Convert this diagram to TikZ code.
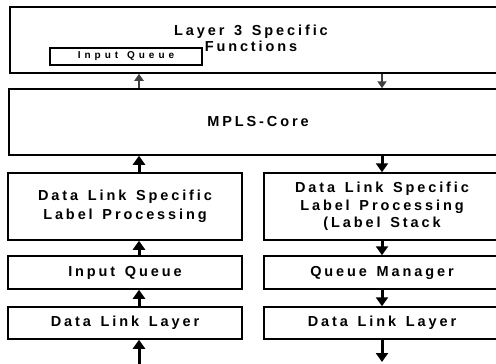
\documentclass[tikz,border=0pt]{standalone}
\usepackage{fontspec}
\setmainfont{Liberation Sans}
\newfontfamily\spacedsans[LetterSpace=20, WordSpace=1.4, BoldFont={Liberation Sans Bold}]{Liberation Sans}
\newfontfamily\smallspaced[LetterSpace=40, WordSpace=1.3, BoldFont={Liberation Sans Bold}]{Liberation Sans}
\usetikzlibrary{arrows.meta}

\begin{document}
\begin{tikzpicture}[x=1pt,y=-1pt,
  box/.style={draw, line width=1.5pt, inner sep=0pt, align=center,
    font=\spacedsans\bfseries\fontsize{14.5}{17.5}\selectfont},
  lbl/.style={inner sep=0pt, align=center,
    font=\spacedsans\bfseries\fontsize{14.5}{16}\selectfont},
  smallbox/.style={draw, line width=1.3pt, inner sep=0pt,
    font=\smallspaced\bfseries\fontsize{10}{10}\selectfont},
  bigarrow/.style={line width=3pt, -{Triangle[width=12pt,length=9pt]}},
  thinarrow/.style={line width=2.4pt, black!75, -{Triangle[width=9pt,length=7pt]}}]

\useasboundingbox (0,0) rectangle (496,364);

% arrow columns
\coordinate (colL) at (139,0);
\coordinate (colR) at (382,0);

% upper layers
\node[box, minimum width=497, minimum height=66] (l3) at (258.5,40) {};
\node[lbl] (l3text) at (251,38.5) {Layer 3 Specific\\Functions};
\node[smallbox, minimum width=152, minimum height=17] (iqs) at (126,56.5) {Input Queue};
\node[box, minimum width=498, minimum height=66] (mpls) at (258,122) {MPLS-Core};

% receive column
\node[box, minimum width=234, minimum height=67] (dlsl) at (125,206.5)
  {Data Link Specific\\[1.5pt]Label Processing};
\node[box, minimum width=234, minimum height=33] (iq) at (125,272.5) {Input Queue};
\node[box, minimum width=234, minimum height=32] (dllL) at (125,323) {Data Link Layer};

% send column
\node[box, minimum width=236, minimum height=67] (dlsr) at (382,206.5)
  {Data Link Specific\\Label Processing\\(Label Stack};
\node[box, minimum width=236, minimum height=33] (qm) at (382,272.5) {Queue Manager};
\node[box, minimum width=236, minimum height=32] (dllR) at (382,323) {Data Link Layer};

% open ends
\coordinate (inL) at (139,368);
\coordinate (outR) at (382,362);

% receive path (upwards)
\draw[bigarrow] (inL) -- (dllL.south -| colL);
\draw[bigarrow] (dllL.north -| colL) -- (iq.south -| colL);
\draw[bigarrow] (iq.north -| colL) -- (dlsl.south -| colL);
\draw[bigarrow] (dlsl.north -| colL) -- (mpls.south -| colL);
\draw[thinarrow] (mpls.north -| colL) -- (l3.south -| colL);

% send path (downwards)
\draw[thinarrow] (l3.south -| colR) -- (mpls.north -| colR);
\draw[bigarrow] (mpls.south -| colR) -- (dlsr.north -| colR);
\draw[bigarrow] (dlsr.south -| colR) -- (qm.north -| colR);
\draw[bigarrow] (qm.south -| colR) -- (dllR.north -| colR);
\draw[bigarrow] (dllR.south -| colR) -- (outR);
\end{tikzpicture}
\end{document}
